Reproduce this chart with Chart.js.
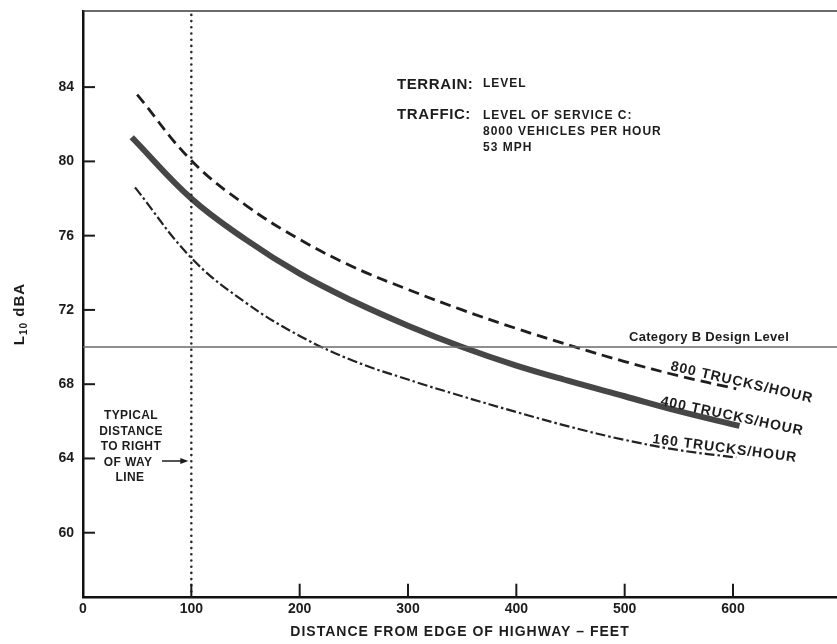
<!DOCTYPE html>
<html>
<head>
<meta charset="utf-8">
<script src="https://cdn.jsdelivr.net/npm/chart.js@4/dist/chart.umd.min.js"></script>
<style>
  html, body { margin: 0; padding: 0; background: #ffffff; }
  #wrap { width: 837px; height: 644px; position: relative; }
</style>
</head>
<body>
<div id="wrap"><canvas id="chart" width="837" height="644"></canvas></div>
<script>
// Axis ticks
const xTicks = [0, 100, 200, 300, 400, 500, 600];
const yTicks = [60, 64, 68, 72, 76, 80, 84];

// L10 noise level (dBA) against distance from the highway edge (feet)
const dist800 = [50, 100, 150, 200, 250, 300, 350, 400, 450, 500, 550, 603];
const level800 = [83.6, 80.05, 77.65, 75.8, 74.3, 73.1, 72.0, 71.0, 70.08, 69.22, 68.45, 67.75];

const dist400 = [45, 100, 150, 200, 250, 300, 350, 400, 450, 500, 550, 606];
const level400 = [81.3, 78.0, 75.8, 73.95, 72.45, 71.15, 70.0, 69.0, 68.15, 67.35, 66.55, 65.75];

const dist160 = [48, 100, 150, 200, 250, 300, 350, 400, 450, 500, 550, 603];
const level160 = [78.6, 74.8, 72.4, 70.6, 69.25, 68.25, 67.35, 66.5, 65.7, 65.0, 64.45, 64.05];

// Reference values
const rightOfWay = 100;     // typical right-of-way distance, feet
const designLevel = 70;     // Category B design level, dBA
const xRange = [0, 696];
const yRange = [56.5, 88.1];

const pts = (xs, ys) => xs.map((x, i) => ({ x: x, y: ys[i] }));

const FONT = "'Liberation Sans', Arial, Helvetica, sans-serif";

function drawText(ctx, str, x, y, size, opts) {
  opts = opts || {};
  ctx.save();
  ctx.font = 'bold ' + size + 'px ' + FONT;
  ctx.fillStyle = opts.color || '#1c1c1c';
  ctx.textAlign = opts.align || 'left';
  ctx.textBaseline = opts.baseline || 'alphabetic';
  if ('letterSpacing' in ctx) ctx.letterSpacing = (opts.spacing || 0) + 'px';
  ctx.translate(x, y);
  if (opts.rotate) ctx.rotate(opts.rotate * Math.PI / 180);
  ctx.fillText(str, 0, 0);
  ctx.restore();
}

const decorations = {
  id: 'decorations',
  afterDraw(chart) {
    const ctx = chart.ctx;
    const area = chart.chartArea;
    const xs = chart.scales.x;
    const ys = chart.scales.y;

    // Top frame line
    ctx.save();
    ctx.strokeStyle = '#3a3a3a';
    ctx.lineWidth = 1.5;
    ctx.beginPath();
    ctx.moveTo(area.left, area.top);
    ctx.lineTo(chart.width, area.top);
    ctx.stroke();

    // Inward tick marks
    ctx.strokeStyle = '#1a1a1a';
    ctx.lineWidth = 2;
    yTicks.forEach(v => {
      const py = ys.getPixelForValue(v);
      ctx.beginPath();
      ctx.moveTo(area.left, py);
      ctx.lineTo(area.left + 12, py);
      ctx.stroke();
    });
    xTicks.forEach(v => {
      if (v === 0) return;
      const px = xs.getPixelForValue(v);
      ctx.beginPath();
      ctx.moveTo(px, area.bottom);
      ctx.lineTo(px, area.bottom - 14);
      ctx.stroke();
    });
    ctx.restore();

    // Y axis title: L10 dBA with subscript
    ctx.save();
    ctx.translate(20, 314);
    ctx.rotate(-Math.PI / 2);
    ctx.fillStyle = '#1c1c1c';
    ctx.textBaseline = 'middle';
    if ('letterSpacing' in ctx) ctx.letterSpacing = '1px';
    ctx.font = 'bold 15px ' + FONT;
    const wL = ctx.measureText('L').width;
    ctx.font = 'bold 10px ' + FONT;
    const wSub = ctx.measureText('10').width;
    ctx.font = 'bold 15px ' + FONT;
    const wRest = ctx.measureText(' dBA').width;
    let cx = -(wL + wSub + wRest) / 2;
    ctx.fillText('L', cx, 0);
    cx += wL;
    ctx.font = 'bold 10px ' + FONT;
    ctx.fillText('10', cx, 4);
    cx += wSub;
    ctx.font = 'bold 15px ' + FONT;
    ctx.fillText(' dBA', cx, 0);
    ctx.restore();

    // X axis title
    drawText(ctx, 'DISTANCE FROM EDGE OF HIGHWAY \u2013 FEET', 460, 632, 14,
      { align: 'center', baseline: 'middle', spacing: 1 });

    // Site conditions
    drawText(ctx, 'TERRAIN:', 397, 88.5, 15, { spacing: 0.6 });
    drawText(ctx, 'LEVEL', 483, 87, 12, { spacing: 1 });
    drawText(ctx, 'TRAFFIC:', 397, 119, 15, { spacing: 0.6 });
    drawText(ctx, 'LEVEL OF SERVICE C:', 483, 118.5, 12, { spacing: 1 });
    drawText(ctx, '8000 VEHICLES PER HOUR', 483, 135, 12, { spacing: 1 });
    drawText(ctx, '53 MPH', 483, 151, 12, { spacing: 1 });

    // Design level caption
    const pyDesign = ys.getPixelForValue(designLevel);
    drawText(ctx, 'Category B Design Level', 629, pyDesign - 6, 13, { spacing: 0.3 });

    // Curve labels
    drawText(ctx, '800 TRUCKS/HOUR', 670, 370, 14, { spacing: 1, rotate: 13 });
    drawText(ctx, '400 TRUCKS/HOUR', 660, 405, 14, { spacing: 1, rotate: 12 });
    drawText(ctx, '160 TRUCKS/HOUR', 652, 443, 14, { spacing: 1, rotate: 7.5 });

    // Right-of-way note with arrow
    const noteLines = ['TYPICAL', 'DISTANCE', 'TO RIGHT', 'OF WAY', 'LINE'];
    const noteX = [131, 131, 131, 128, 130];
    noteLines.forEach((s, i) => {
      drawText(ctx, s, noteX[i], 419 + i * 15.6, 12, { align: 'center', spacing: 0.4 });
    });
    const tipX = xs.getPixelForValue(rightOfWay) - 3;
    const arrowY = 461;
    ctx.save();
    ctx.strokeStyle = '#1c1c1c';
    ctx.fillStyle = '#1c1c1c';
    ctx.lineWidth = 1.5;
    ctx.beginPath();
    ctx.moveTo(162, arrowY);
    ctx.lineTo(tipX - 6, arrowY);
    ctx.stroke();
    ctx.beginPath();
    ctx.moveTo(tipX, arrowY);
    ctx.lineTo(tipX - 8, arrowY - 3);
    ctx.lineTo(tipX - 8, arrowY + 3);
    ctx.closePath();
    ctx.fill();
    ctx.restore();
  }
};

// Keep the plot area exactly where the layout puts it
function clearScalePadding(s) {
  s.paddingTop = 0;
  s.paddingBottom = 0;
  s.paddingLeft = 0;
  s.paddingRight = 0;
}

new Chart(document.getElementById('chart'), {
  type: 'line',
  data: {
    datasets: [
      {
        label: 'Category B Design Level',
        data: pts(xRange, [designLevel, designLevel]),
        borderColor: '#6a6a6a',
        borderWidth: 1.5,
        pointRadius: 0,
        tension: 0
      },
      {
        label: 'Typical right of way',
        data: pts([rightOfWay, rightOfWay], yRange),
        borderColor: '#2a2a2a',
        borderWidth: 2.6,
        borderDash: [0, 6.2],
        borderCapStyle: 'round',
        pointRadius: 0,
        tension: 0
      },
      {
        label: '800 TRUCKS/HOUR',
        data: pts(dist800, level800),
        borderColor: '#1e1e1e',
        borderWidth: 2.8,
        borderDash: [11, 6],
        pointRadius: 0,
        tension: 0.4
      },
      {
        label: '400 TRUCKS/HOUR',
        data: pts(dist400, level400),
        borderColor: '#464646',
        borderWidth: 6,
        borderCapStyle: 'butt',
        pointRadius: 0,
        tension: 0.4
      },
      {
        label: '160 TRUCKS/HOUR',
        data: pts(dist160, level160),
        borderColor: '#222222',
        borderWidth: 2.2,
        borderDash: [10, 3, 2.5, 3],
        pointRadius: 0,
        tension: 0.4
      }
    ]
  },
  options: {
    responsive: false,
    animation: false,
    devicePixelRatio: 1,
    layout: { padding: { top: 11, right: 0, left: 0, bottom: 0 } },
    plugins: {
      legend: { display: false },
      tooltip: { enabled: false },
      title: { display: false }
    },
    scales: {
      x: {
        type: 'linear',
        min: xRange[0],
        max: xRange[1],
        afterBuildTicks: s => { s.ticks = xTicks.map(v => ({ value: v })); },
        afterFit: s => { s.height = 46.3; clearScalePadding(s); },
        ticks: {
          autoSkip: false,
          maxRotation: 0,
          padding: 3,
          color: '#1c1c1c',
          font: { family: FONT, size: 14, weight: 'bold' }
        },
        grid: { display: false, drawTicks: false },
        border: { display: true, color: '#111111', width: 2.5 }
      },
      y: {
        type: 'linear',
        min: yRange[0],
        max: yRange[1],
        afterBuildTicks: s => { s.ticks = yTicks.map(v => ({ value: v })); },
        afterFit: s => { s.width = 83; clearScalePadding(s); },
        ticks: {
          padding: 9,
          color: '#1c1c1c',
          font: { family: FONT, size: 14, weight: 'bold' }
        },
        grid: { display: false, drawTicks: false },
        border: { display: true, color: '#111111', width: 2.5 }
      }
    }
  },
  plugins: [decorations]
});
</script>
</body>
</html>
